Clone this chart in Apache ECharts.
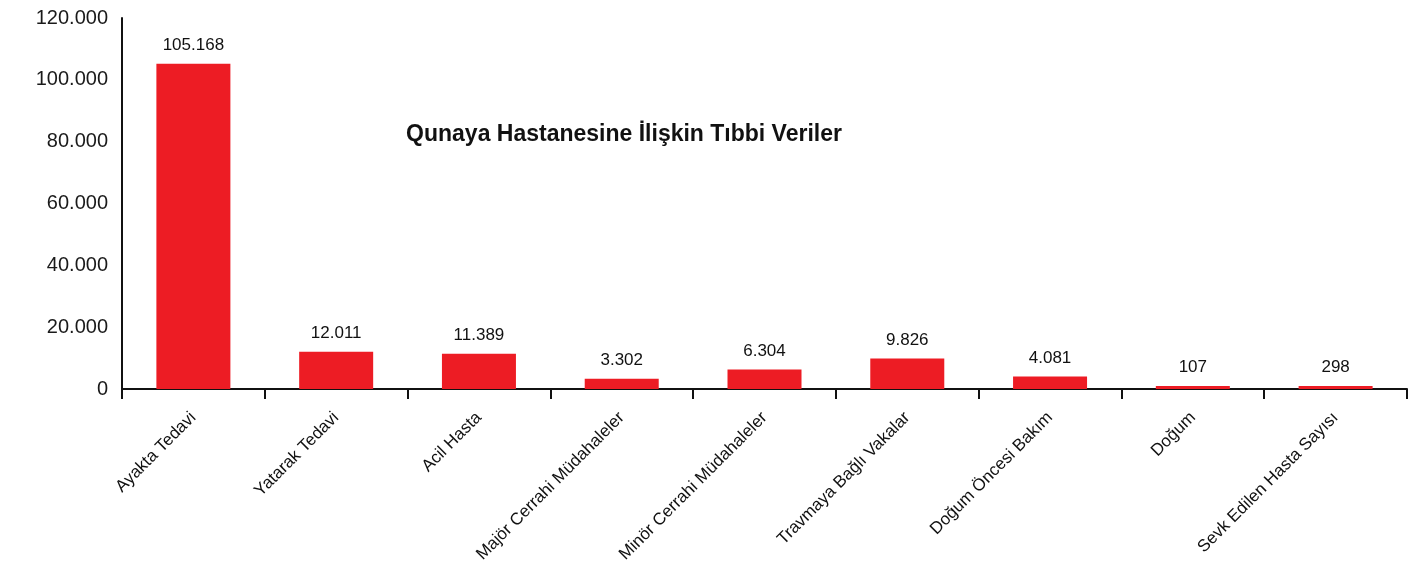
<!DOCTYPE html>
<html>
<head>
<meta charset="utf-8">
<script src="https://cdn.jsdelivr.net/npm/echarts@6/dist/echarts.min.js"></script>
<style>
  html, body { margin: 0; padding: 0; background: #ffffff; }
  #chart { width: 1420px; height: 564px; }
</style>
</head>
<body>
<div id="chart"></div>
<script>
const titleText = 'Qunaya Hastanesine İlişkin Tıbbi Veriler';
const categories = [
  'Ayakta Tedavi',
  'Yatarak Tedavi',
  'Acil Hasta',
  'Majör Cerrahi Müdahaleler',
  'Minör Cerrahi Müdahaleler',
  'Travmaya Bağlı Vakalar',
  'Doğum Öncesi Bakım',
  'Doğum',
  'Sevk Edilen Hasta Sayısı'
];
const values = [105168, 12011, 11389, 3302, 6304, 9826, 4081, 107, 298];
const yMin = 0;
const yMax = 120000;
const yInterval = 20000;

function fmtTR(v) {
  return String(Math.round(v)).replace(/\B(?=(\d{3})+(?!\d))/g, '.');
}

const FONT = '"Liberation Sans", Arial, Helvetica, sans-serif';
const chart = echarts.init(document.getElementById('chart'), null, { renderer: 'canvas' });
chart.setOption({
  animation: false,
  backgroundColor: '#ffffff',
  title: {
    text: titleText,
    left: 619,
    top: 118,
    textAlign: 'center',
    textStyle: { fontFamily: FONT, fontSize: 23, fontWeight: 'bold', color: '#111111' }
  },
  grid: { left: 122, right: 13, top: 18, bottom: 175, containLabel: false, outerBoundsMode: 'none' },
  xAxis: {
    type: 'category',
    data: categories,
    boundaryGap: true,
    axisLine: { show: true, lineStyle: { color: '#111111', width: 2 } },
    axisTick: { show: true, length: 10, lineStyle: { color: '#111111', width: 2 } },
    axisLabel: {
      rotate: 45,
      interval: 0,
      margin: 26,
      fontFamily: FONT,
      fontSize: 17,
      color: '#111111'
    },
    splitLine: { show: false }
  },
  yAxis: {
    type: 'value',
    min: yMin,
    max: yMax,
    interval: yInterval,
    axisLine: { show: true, lineStyle: { color: '#111111', width: 2 } },
    axisTick: { show: false },
    splitLine: { show: false },
    axisLabel: {
      margin: 14,
      fontFamily: FONT,
      fontSize: 20,
      color: '#1a1a1a',
      formatter: function (v) { return fmtTR(v); }
    }
  },
  series: [{
    type: 'bar',
    data: values,
    barWidth: 74,
    barMinHeight: 3,
    itemStyle: { color: '#ED1C24' },
    label: {
      show: true,
      position: 'top',
      distance: 10,
      fontFamily: FONT,
      fontSize: 17,
      color: '#111111',
      formatter: function (p) { return fmtTR(p.value); }
    }
  }]
});
</script>
</body>
</html>
